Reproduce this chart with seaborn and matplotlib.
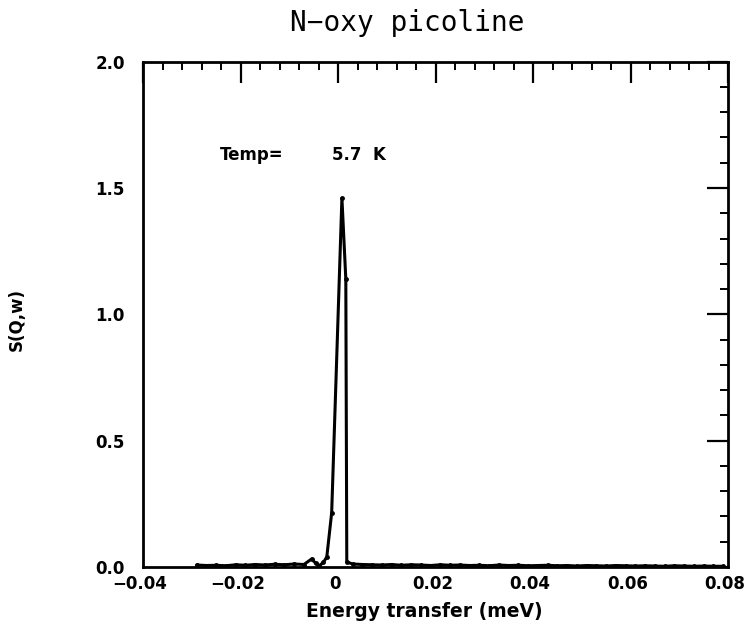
import matplotlib
matplotlib.use("Agg")
import matplotlib.pyplot as plt
import matplotlib.transforms as mtransforms
import seaborn as sns
import pandas as pd
from matplotlib.ticker import MultipleLocator

# Data
energy = [-0.0290, -0.0270, -0.0250, -0.0230, -0.0210, -0.0190, -0.0170, -0.0150,
          -0.0130, -0.0110, -0.0090, -0.0070, -0.0054, -0.0046, -0.0038, -0.0030,
          -0.0023, -0.0013, 0.0008, 0.0016, 0.0018, 0.0030, 0.0050, 0.0070,
          0.0090, 0.0110, 0.0130, 0.0150, 0.0170, 0.0190, 0.0210, 0.0230,
          0.0250, 0.0270, 0.0290, 0.0310, 0.0330, 0.0350, 0.0370, 0.0390,
          0.0410, 0.0430, 0.0450, 0.0470, 0.0490, 0.0510, 0.0530, 0.0550,
          0.0570, 0.0590, 0.0610, 0.0630, 0.0650, 0.0670, 0.0690, 0.0710,
          0.0730, 0.0750, 0.0770, 0.0790]
sqw = [0.008, 0.006, 0.007, 0.005, 0.009, 0.007, 0.010, 0.008,
       0.011, 0.009, 0.012, 0.010, 0.032, 0.015, 0.006, 0.018,
       0.040, 0.215, 1.460, 1.140, 0.020, 0.012, 0.010, 0.009,
       0.008, 0.010, 0.007, 0.009, 0.008, 0.006, 0.009, 0.007,
       0.008, 0.006, 0.007, 0.005, 0.008, 0.006, 0.007, 0.005,
       0.006, 0.007, 0.005, 0.006, 0.004, 0.006, 0.005, 0.004,
       0.006, 0.005, 0.004, 0.005, 0.004, 0.003, 0.005, 0.004,
       0.003, 0.004, 0.003, 0.003]
xticks = [-0.04, -0.02, 0, 0.02, 0.04, 0.06, 0.08]
xticklabels = ["\u22120.04", "\u22120.02", "0", "0.02", "0.04", "0.06", "0.08"]
yticks = [0.0, 0.5, 1.0, 1.5, 2.0]
yticklabels = ["0.0", "0.5", "1.0", "1.5", "2.0"]

df = pd.DataFrame({"E": energy, "S": sqw})

sns.set_style("white")
plt.rcParams['font.family'] = ['DejaVu Sans']
plt.rcParams['text.color'] = 'black'

fig = plt.figure(figsize=(7.46, 6.32), dpi=100)
ax = fig.add_axes([0.1917, 0.1028, 0.7842, 0.7996])

sns.lineplot(data=df, x="E", y="S", sort=False, color="black", linewidth=2.2,
             marker="o", markersize=3.5, markeredgewidth=0, ax=ax)

ax.set_xlim(-0.04, 0.08)
ax.set_ylim(0, 2.0)
ax.set_xticks(xticks)
ax.set_xticklabels(xticklabels, fontsize=12, fontweight="bold", color="black")
ax.set_yticks(yticks)
ax.set_yticklabels(yticklabels, fontsize=12, fontweight="bold", color="black")
ax.xaxis.set_minor_locator(MultipleLocator(0.004))
ax.yaxis.set_minor_locator(MultipleLocator(0.1))
ax.tick_params(which="major", direction="in", length=15, width=1.6,
               top=True, right=True, colors="black")
ax.tick_params(axis="x", which="major", pad=6)
ax.tick_params(axis="y", which="major", pad=13)
ax.tick_params(which="minor", direction="in", length=6, width=1.4,
               top=True, right=True, colors="black")
for s in ax.spines.values():
    s.set_linewidth(2.0)
    s.set_color("black")

# shift x tick labels slightly left as in the reference
offset = mtransforms.ScaledTranslation(-3 / 100, 0, fig.dpi_scale_trans)
for lab in ax.get_xticklabels():
    lab.set_transform(lab.get_transform() + offset)

ax.set_xlabel("Energy transfer (meV)", fontsize=13.5, fontweight="bold",
              labelpad=5, color="black")
ax.xaxis.set_label_coords(0.48, -0.07)
ax.set_ylabel("S(Q,w)", fontsize=12, fontweight="bold", color="black")
ax.yaxis.set_label_coords(-0.20, 0.49)

fig.text(0.546, 0.963, "N\u2212oxy picoline", fontsize=20,
         family="DejaVu Sans Mono", ha="center", va="center", color="black")

ax.text(-0.0242, 1.61, "Temp=", fontsize=12, fontweight="bold", color="black")
ax.text(-0.0012, 1.61, "5.7  K", fontsize=12, fontweight="bold", color="black")

fig.savefig("out.png", dpi=100)
